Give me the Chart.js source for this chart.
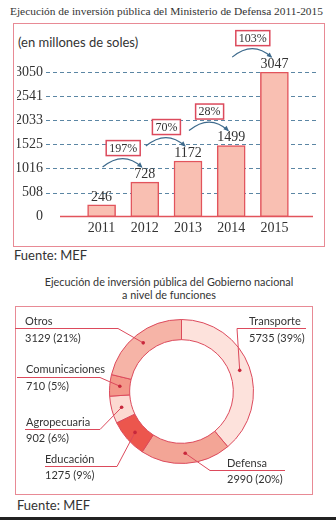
<!DOCTYPE html>
<html><head><meta charset="utf-8">
<script src="https://cdn.jsdelivr.net/npm/chart.js@4/dist/chart.umd.min.js"></script>
<style>
body{margin:0;background:#fff;width:336px;height:520px;overflow:hidden;position:relative;font-family:Lato,sans-serif;color:#333}
.abs{position:absolute;white-space:nowrap}
#t1{left:10px;top:5px;font-family:'Liberation Serif',serif;font-size:11.5px}
#box1{left:13px;top:23px;width:310px;height:222px;border:1.5px solid #e88a95}
#unit{left:18px;top:34px;font-size:13px}
#f1{left:14px;top:247px;font-size:13px}
#t2{left:0;width:338px;top:275px;text-align:center;font-size:10.8px;line-height:13px}
#box2{left:15px;top:306px;width:296px;height:187px;border:1.5px solid #e88a95}
#f2{left:17px;top:497px;font-size:13px}
#bottomline{left:0;top:517px;width:336px;height:3px;background:#222}
canvas{position:absolute;left:0}
#c1{top:0}
#c2{top:262px}
</style>
</head><body>
<div class="abs" id="t1">Ejecución de inversión pública del Ministerio de Defensa 2011-2015</div>
<div class="abs" id="box1"></div>
<div class="abs" id="unit">(en millones de soles)</div>
<div class="abs" id="f1">Fuente: MEF</div>
<div class="abs" id="t2">Ejecución de inversión pública del Gobierno nacional<br>a nivel de funciones</div>
<div class="abs" id="box2"></div>
<div class="abs" id="f2">Fuente: MEF</div>
<div class="abs" id="bottomline"></div>
<canvas id="c1" width="336" height="262"></canvas>
<canvas id="c2" width="336" height="258"></canvas>
<script>
// ---- data ----
const years = ['2011', '2012', '2013', '2014', '2015'];
const inversion = [246, 728, 1172, 1499, 3047];
const yTicks = [0, 508, 1016, 1525, 2033, 2541, 3050];
const growth = ['197%', '70%', '28%', '103%'];

const funciones = ['Transporte', 'Defensa', 'Educación', 'Agropecuaria', 'Comunicaciones', 'Otros'];
const montos = [5735, 2990, 1275, 902, 710, 3129];

// fit the top title to the reference width
(function () {
  const t = document.getElementById('t1');
  const target = 313;
  const fs = parseFloat(getComputedStyle(t).fontSize);
  const w = t.getBoundingClientRect().width;
  if (w > 0) t.style.fontSize = (fs * target / w).toFixed(2) + 'px';
})();

// ---- styles ----
const SERIF = "'Liberation Serif', serif";
const SANS = "Lato, sans-serif";
const RED = '#dc4a5c';
Chart.defaults.font.family = SERIF;
Chart.defaults.color = '#333';

const barExtras = {
  id: 'barExtras',
  beforeDatasetsDraw(chart) {
    const ctx = chart.ctx, y = chart.scales.y;
    ctx.save();
    ctx.strokeStyle = '#5b86a4'; ctx.lineWidth = 1; ctx.setLineDash([4, 3]);
    yTicks.forEach(v => {
      if (v === 0) return;
      const py = Math.round(y.getPixelForValue(v)) + 0.5;
      ctx.beginPath(); ctx.moveTo(46, py); ctx.lineTo(318, py); ctx.stroke();
    });
    ctx.setLineDash([]);
    ctx.strokeStyle = '#e2545c'; ctx.lineWidth = 1.5;
    const p0 = y.getPixelForValue(0);
    ctx.beginPath(); ctx.moveTo(60, p0); ctx.lineTo(313, p0); ctx.stroke();
    ctx.restore();
  },
  afterDatasetsDraw(chart) {
    const ctx = chart.ctx;
    const bars = chart.getDatasetMeta(0).data;
    ctx.save();
    ctx.font = '14px ' + SERIF; ctx.fillStyle = '#333';
    ctx.textAlign = 'center'; ctx.textBaseline = 'middle';
    bars.forEach((b, i) => ctx.fillText(String(inversion[i]), b.x, b.y - 8));
    growth.forEach((g, i) => {
      const x0 = bars[i].x, x1 = bars[i + 1].x, top = bars[i + 1].y;
      const sx = x0 + 1, sy = top - 15, ex = x1 - 3, ey = top - 15;
      const cx = (x0 + x1) / 2, cy = top - 32;
      ctx.strokeStyle = '#3d6a8c'; ctx.lineWidth = 1.2;
      ctx.beginPath(); ctx.moveTo(sx, sy); ctx.quadraticCurveTo(cx, cy, ex, ey); ctx.stroke();
      const ang = Math.atan2(ey - cy, ex - cx);
      ctx.fillStyle = '#3d6a8c';
      ctx.beginPath();
      ctx.moveTo(ex + Math.cos(ang) * 1, ey + Math.sin(ang) * 1);
      ctx.lineTo(ex - Math.cos(ang - 0.5) * 5, ey - Math.sin(ang - 0.5) * 5);
      ctx.lineTo(ex - Math.cos(ang + 0.5) * 5, ey - Math.sin(ang + 0.5) * 5);
      ctx.closePath(); ctx.fill();
      ctx.font = '12px ' + SERIF;
      const w = ctx.measureText(g).width + 6, h = 15;
      const bx = (x0 + x1) / 2 - w / 2, by = top - 34 - h / 2;
      ctx.fillStyle = '#fff'; ctx.fillRect(bx, by, w, h);
      ctx.strokeStyle = RED; ctx.lineWidth = 1.5; ctx.strokeRect(bx, by, w, h);
      ctx.fillStyle = '#333'; ctx.fillText(g, bx + w / 2, by + h / 2 + 0.5);
    });
    ctx.restore();
  }
};

new Chart(document.getElementById('c1'), {
  type: 'bar',
  data: {
    labels: years,
    datasets: [{
      data: inversion,
      backgroundColor: '#f9bfb2',
      borderColor: '#e2545c',
      borderWidth: 1.5,
      borderSkipped: false,
      barThickness: 28
    }]
  },
  options: {
    responsive: false, animation: false,
    layout: { padding: { left: 17, right: 40, top: 72, bottom: 23 } },
    plugins: { legend: { display: false }, tooltip: { enabled: false } },
    scales: {
      x: {
        afterFit: s => { s.height = 20; },
        grid: { display: false, drawTicks: false }, border: { display: false },
        ticks: { font: { size: 14 }, padding: 3, color: '#333' }
      },
      y: {
        min: 0, max: 3050,
        afterBuildTicks: s => { s.ticks = yTicks.map(v => ({ value: v })); },
        afterFit: s => { s.width = 63; },
        grid: { display: false, drawTicks: false }, border: { display: false },
        ticks: { font: { size: 14 }, padding: 37, color: '#333', callback: v => String(v) }
      }
    }
  },
  plugins: [barExtras]
});

// ---- doughnut ----
const labelLayout = [
  { tx: 249, ny: 59, vy: 76, lineY: 66, lx1: 306, elbowX: 237 },
  { tx: 227, ny: 201, vy: 217, lineY: 208, lx1: 285, elbowX: 210 },
  { tx: 45, ny: 197, vy: 213, lineY: 204, lx1: 45, elbowX: 117 },
  { tx: 26, ny: 160, vy: 176, lineY: 167, lx1: 25, elbowX: 100 },
  { tx: 26, ny: 107, vy: 124, lineY: 115, lx1: 17, elbowX: 100 },
  { tx: 25, ny: 59, vy: 76, lineY: 66, lx1: 15, elbowX: 118 }
];
const total = montos.reduce((a, b) => a + b, 0);

const donutLabels = {
  id: 'donutLabels',
  afterDatasetsDraw(chart) {
    const ctx = chart.ctx;
    const arcs = chart.getDatasetMeta(0).data;
    ctx.save();
    arcs.forEach((a, i) => {
      const p = a.tooltipPosition();
      const L = labelLayout[i];
      ctx.strokeStyle = RED; ctx.lineWidth = 1;
      ctx.beginPath(); ctx.moveTo(L.lx1, L.lineY + 0.5); ctx.lineTo(L.elbowX, L.lineY + 0.5); ctx.lineTo(p.x, p.y); ctx.stroke();
      ctx.fillStyle = '#c8283c';
      ctx.beginPath(); ctx.arc(p.x, p.y, 1.8, 0, Math.PI * 2); ctx.fill();
      ctx.fillStyle = '#333'; ctx.font = '11px ' + SANS;
      ctx.textAlign = 'left'; ctx.textBaseline = 'middle';
      ctx.fillText(funciones[i], L.tx, L.ny);
      ctx.fillText(montos[i] + ' (' + Math.round(montos[i] / total * 100) + '%)', L.tx, L.vy);
    });
    ctx.restore();
  }
};

new Chart(document.getElementById('c2'), {
  type: 'doughnut',
  data: {
    labels: funciones,
    datasets: [{
      data: montos,
      backgroundColor: ['#fde2dc', '#f3a596', '#ec564d', '#fcd9d1', '#f39789', '#f6b4a7'],
      borderColor: RED,
      borderWidth: 1
    }]
  },
  options: {
    responsive: false, animation: false,
    cutout: '72%',
    layout: { padding: { left: 109, right: 82, top: 57, bottom: 56 } },
    plugins: { legend: { display: false }, tooltip: { enabled: false } }
  },
  plugins: [donutLabels]
});
</script>
</body></html>
